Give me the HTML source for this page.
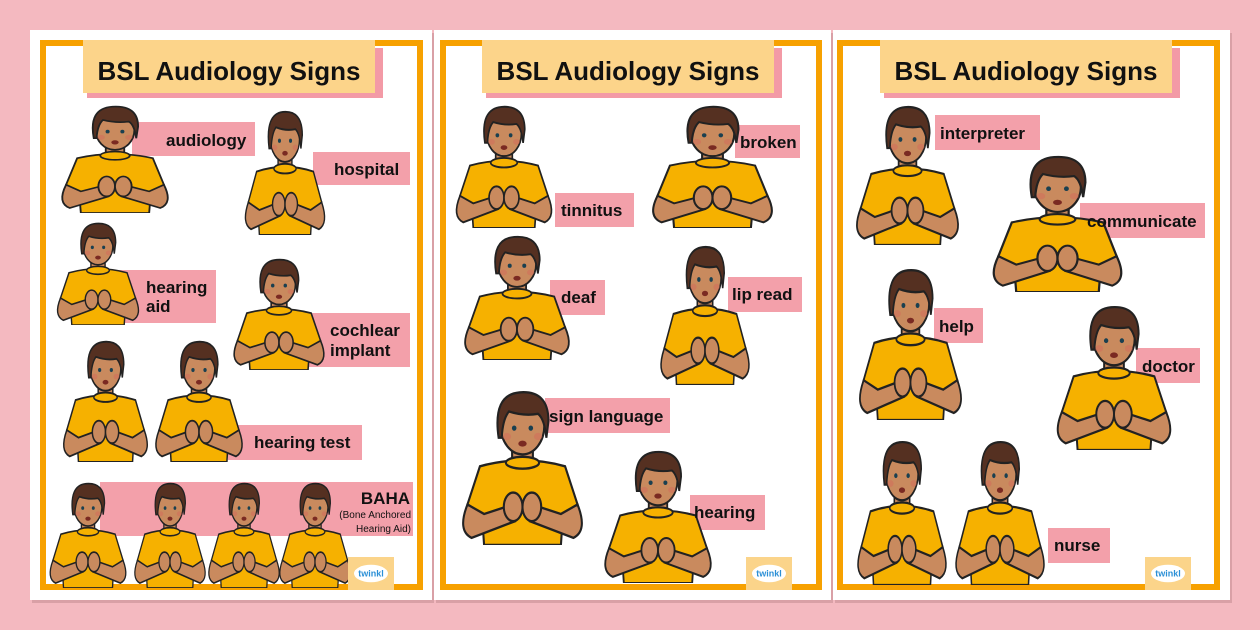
<!DOCTYPE html>
<html><head><meta charset="utf-8"><style>
html,body{margin:0;padding:0;background:#f4b9c0;}
svg{display:block}
text{font-family:"Liberation Sans",sans-serif;font-weight:bold;fill:#111}
</style></head><body>
<svg width="1260" height="630" viewBox="0 0 1260 630" xmlns="http://www.w3.org/2000/svg">
<defs>
<symbol id="p" viewBox="0 0 130 130" preserveAspectRatio="none">
  <path d="M24 64 Q65 54 106 64 L118 96 L104 104 L102 130 L28 130 L26 104 L12 96 Z" fill="#f6b100" stroke="#222" stroke-width="2"/>
  <path d="M12 96 Q2 118 16 124 L58 110 L56 96 L28 104 Z" fill="#c98a5e" stroke="#222" stroke-width="2"/>
  <path d="M118 96 Q128 118 114 124 L72 110 L74 96 L102 104 Z" fill="#c98a5e" stroke="#222" stroke-width="2"/>
  <ellipse cx="56" cy="98" rx="9" ry="12" fill="#c98a5e" stroke="#222" stroke-width="2"/>
  <ellipse cx="74" cy="98" rx="9" ry="12" fill="#c98a5e" stroke="#222" stroke-width="2"/>
  <rect x="55" y="46" width="20" height="16" fill="#c98a5e" stroke="#222" stroke-width="2"/>
  <ellipse cx="65" cy="61" rx="16" ry="5" fill="#f6b100" stroke="#222" stroke-width="2"/>
  <ellipse cx="65" cy="30" rx="21" ry="24" fill="#c98a5e" stroke="#222" stroke-width="2"/>
  <path d="M42 40 Q36 4 62 2 Q90 0 90 26 L88 40 Q86 24 80 20 Q66 22 52 18 Q46 24 45 40 Z" fill="#553021" stroke="#222" stroke-width="2"/>
  <circle cx="57" cy="32" r="2.2" fill="#1a4050"/><circle cx="73" cy="32" r="2.2" fill="#1a4050"/>
  <ellipse cx="50" cy="39" rx="4" ry="3" fill="#d46a5a" opacity="0.5"/><ellipse cx="80" cy="39" rx="4" ry="3" fill="#d46a5a" opacity="0.5"/>
  <ellipse cx="65" cy="45" rx="4" ry="2.5" fill="#7a2a22"/>
</symbol>
<symbol id="tw" viewBox="0 0 46 34" preserveAspectRatio="none">
  <rect width="46" height="34" fill="#fbd48a"/>
  <ellipse cx="23" cy="17" rx="17" ry="9" fill="#fff"/>
  <text x="23" y="20" font-size="9" text-anchor="middle" style="fill:#2a8fd6">twinkl</text>
</symbol>
</defs>

<g>
<rect x="32" y="33" width="402" height="570" fill="#d9a0a6"/>
<rect x="436" y="33" width="397" height="570" fill="#d9a0a6"/>
<rect x="835" y="33" width="397" height="570" fill="#d9a0a6"/>
<rect x="30" y="30" width="402" height="570" fill="#fff"/>
<rect x="43" y="43" width="377" height="544" fill="none" stroke="#f7a100" stroke-width="6"/>
<rect x="434" y="30" width="397" height="570" fill="#fff"/>
<rect x="443" y="43" width="376" height="544" fill="none" stroke="#f7a100" stroke-width="6"/>
<rect x="833" y="30" width="397" height="570" fill="#fff"/>
<rect x="840" y="43" width="377" height="544" fill="none" stroke="#f7a100" stroke-width="6"/>
</g>

<g font-size="26">
<rect x="87" y="48" width="296" height="50" fill="#f39aa6"/>
<rect x="83" y="40" width="292" height="53" fill="#fcd48a"/>
<text x="229" y="80" text-anchor="middle" font-size="26">BSL Audiology Signs</text>
<rect x="486" y="48" width="296" height="50" fill="#f39aa6"/>
<rect x="482" y="40" width="292" height="53" fill="#fcd48a"/>
<text x="628" y="80" text-anchor="middle" font-size="26">BSL Audiology Signs</text>
<rect x="884" y="48" width="296" height="50" fill="#f39aa6"/>
<rect x="880" y="40" width="292" height="53" fill="#fcd48a"/>
<text x="1026" y="80" text-anchor="middle" font-size="26">BSL Audiology Signs</text>
</g>

<g fill="#f3a0aa">
<rect x="132" y="122" width="123" height="34"/>
<rect x="313" y="152" width="97" height="33"/>
<rect x="118" y="270" width="98" height="53"/>
<rect x="303" y="313" width="107" height="54"/>
<rect x="228" y="425" width="134" height="35"/>
<rect x="100" y="482" width="313" height="54"/>
<rect x="555" y="193" width="79" height="34"/>
<rect x="735" y="125" width="65" height="33"/>
<rect x="550" y="280" width="55" height="35"/>
<rect x="728" y="277" width="74" height="35"/>
<rect x="545" y="398" width="125" height="35"/>
<rect x="690" y="495" width="75" height="35"/>
<rect x="935" y="115" width="105" height="35"/>
<rect x="1080" y="203" width="125" height="35"/>
<rect x="934" y="308" width="49" height="35"/>
<rect x="1136" y="348" width="64" height="35"/>
<rect x="1048" y="528" width="62" height="35"/>
</g>

<g>
<use href="#p" x="55" y="105" width="120" height="108"/>
<use href="#p" x="240" y="110" width="90" height="125"/>
<use href="#p" x="52" y="222" width="92" height="103"/>
<use href="#p" x="228" y="258" width="102" height="112"/>
<use href="#p" x="58" y="340" width="95" height="122"/>
<use href="#p" x="150" y="340" width="98" height="122"/>
<use href="#p" x="45" y="482" width="86" height="106"/>
<use href="#p" x="130" y="482" width="80" height="106"/>
<use href="#p" x="204" y="482" width="80" height="106"/>
<use href="#p" x="275" y="482" width="80" height="106"/>

<use href="#p" x="450" y="105" width="108" height="123"/>
<use href="#p" x="645" y="105" width="135" height="123"/>
<use href="#p" x="458" y="235" width="118" height="125"/>
<use href="#p" x="655" y="245" width="100" height="140"/>
<use href="#p" x="455" y="390" width="135" height="155"/>
<use href="#p" x="598" y="450" width="120" height="133"/>

<use href="#p" x="850" y="105" width="115" height="140"/>
<use href="#p" x="985" y="155" width="145" height="137"/>
<use href="#p" x="853" y="268" width="115" height="152"/>
<use href="#p" x="1050" y="305" width="128" height="145"/>
<use href="#p" x="852" y="440" width="100" height="145"/>
<use href="#p" x="950" y="440" width="100" height="145"/>
</g>

<g font-size="17">
<text x="166" y="146">audiology</text>
<text x="334" y="175">hospital</text>
<text x="146" y="293">hearing</text>
<text x="146" y="312">aid</text>
<text x="330" y="336">cochlear</text>
<text x="330" y="356">implant</text>
<text x="254" y="448">hearing test</text>
<text x="410" y="504" text-anchor="end" font-size="17">BAHA</text>
<text x="411" y="518" text-anchor="end" font-size="10" style="font-weight:normal">(Bone Anchored</text>
<text x="411" y="532" text-anchor="end" font-size="10" style="font-weight:normal">Hearing Aid)</text>
<text x="561" y="216">tinnitus</text>
<text x="740" y="148">broken</text>
<text x="561" y="303">deaf</text>
<text x="732" y="300">lip read</text>
<text x="549" y="422">sign language</text>
<text x="694" y="518">hearing</text>
<text x="940" y="139">interpreter</text>
<text x="1087" y="227">communicate</text>
<text x="939" y="332">help</text>
<text x="1142" y="372">doctor</text>
<text x="1054" y="551">nurse</text>
</g>

<use href="#tw" x="348" y="557" width="46" height="33"/>
<use href="#tw" x="746" y="557" width="46" height="33"/>
<use href="#tw" x="1145" y="557" width="46" height="33"/>
</svg>
</body></html>
